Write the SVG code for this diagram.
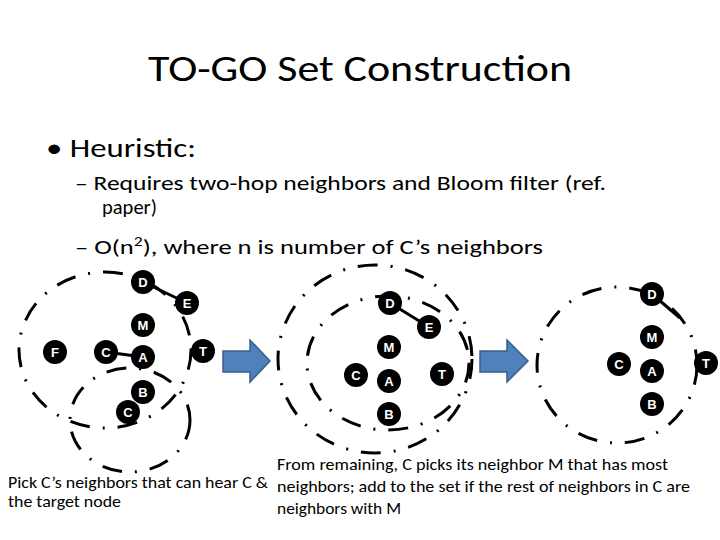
<svg xmlns="http://www.w3.org/2000/svg" width="720" height="540" viewBox="0 0 720 540">
<style>
text{font-family:"Liberation Sans",Arial,sans-serif;fill:#000}
.t{font-family:Carlito,"Open Sans","Liberation Sans",sans-serif}
.ring{fill:none;stroke:#000;stroke-width:3;stroke-dasharray:20 13 2 13}
.n circle{fill:#000}
.n text{fill:#fff;font-size:13px;text-anchor:middle;font-weight:bold}
.ln{stroke:#000;stroke-width:3}
.arr{fill:#4f81bd;stroke:#385d8a;stroke-width:1.5}
</style>
<rect width="720" height="540" fill="#fff"/>
<text class="t" x="360" y="81" font-size="36" text-anchor="middle" textLength="424" lengthAdjust="spacingAndGlyphs">TO-GO Set Construction</text>
<text class="t" x="46" y="157" font-size="27" textLength="150" lengthAdjust="spacingAndGlyphs">• Heuristic:</text>
<text class="t" x="75" y="190" font-size="21" textLength="531" lengthAdjust="spacingAndGlyphs">– Requires two-hop neighbors and Bloom filter (ref.</text>
<text class="t" x="102" y="214" font-size="21" textLength="55" lengthAdjust="spacingAndGlyphs">paper)</text>
<text class="t" x="75" y="254" font-size="21" textLength="468" lengthAdjust="spacingAndGlyphs">– O(n<tspan font-size="14" dy="-8">2</tspan><tspan dy="8">), where n is number of C’s neighbors</tspan></text>
<g id="connectors">
<ellipse class="ring" cx="105" cy="350" rx="86" ry="78"/>
<ellipse class="ring" cx="130" cy="420" rx="60" ry="52"/>
<ellipse class="ring" cx="375" cy="359" rx="97" ry="94"/>
<ellipse class="ring" cx="388" cy="363" rx="81" ry="67"/>
<ellipse class="ring" cx="617" cy="365" rx="80" ry="78"/>
<line class="ln" x1="106" y1="352" x2="143" y2="357"/>
<line class="ln" x1="143" y1="282" x2="187" y2="303"/>
<line class="ln" x1="390" y1="303" x2="429" y2="327"/>
<line class="ln" x1="652" y1="294" x2="680" y2="318"/>
<polygon class="arr" points="223,351 250,351 250,340 270,361 250,382 250,372 223,372"/>
<polygon class="arr" points="480,351 507,351 507,340 528,361 507,382 507,372 480,372"/>
</g>
<g id="g1" class="n">
<g id="n1D"><circle cx="143" cy="282" r="12"/><text x="143" y="287">D</text></g>
<g id="n1E"><circle cx="187" cy="303" r="12"/><text x="187" y="308">E</text></g>
<g id="n1M"><circle cx="143" cy="325" r="12"/><text x="143" y="330">M</text></g>
<g id="n1F"><circle cx="55" cy="352" r="12"/><text x="55" y="357">F</text></g>
<g id="n1C"><circle cx="106" cy="352" r="12"/><text x="106" y="357">C</text></g>
<g id="n1A"><circle cx="143" cy="357" r="12"/><text x="143" y="362">A</text></g>
<g id="n1T"><circle cx="203" cy="351" r="12"/><text x="203" y="356">T</text></g>
<g id="n1B"><circle cx="143" cy="392" r="12"/><text x="143" y="397">B</text></g>
<g id="n1C2"><circle cx="128" cy="412" r="12"/><text x="128" y="417">C</text></g>
</g>
<g id="g2" class="n">
<g id="n2D"><circle cx="390" cy="303" r="12"/><text x="390" y="308">D</text></g>
<g id="n2E"><circle cx="429" cy="327" r="12"/><text x="429" y="332">E</text></g>
<g id="n2M"><circle cx="389" cy="347" r="12"/><text x="389" y="352">M</text></g>
<g id="n2C"><circle cx="356" cy="375" r="12"/><text x="356" y="380">C</text></g>
<g id="n2A"><circle cx="389" cy="381" r="12"/><text x="389" y="386">A</text></g>
<g id="n2T"><circle cx="442" cy="374" r="12"/><text x="442" y="379">T</text></g>
<g id="n2B"><circle cx="389" cy="414" r="12"/><text x="389" y="419">B</text></g>
</g>
<g id="g3" class="n">
<g id="n3D"><circle cx="652" cy="294" r="12"/><text x="652" y="299">D</text></g>
<g id="n3M"><circle cx="652" cy="337" r="12"/><text x="652" y="342">M</text></g>
<g id="n3C"><circle cx="619" cy="364" r="12"/><text x="619" y="369">C</text></g>
<g id="n3A"><circle cx="652" cy="371" r="12"/><text x="652" y="376">A</text></g>
<g id="n3T"><circle cx="706" cy="363" r="12"/><text x="706" y="368">T</text></g>
<g id="n3B"><circle cx="652" cy="404" r="12"/><text x="652" y="409">B</text></g>
</g>
<text class="t" x="8" y="488" font-size="16" textLength="260" lengthAdjust="spacingAndGlyphs">Pick C’s neighbors that can hear C &amp;</text>
<text class="t" x="8" y="507" font-size="16" textLength="113" lengthAdjust="spacingAndGlyphs">the target node</text>
<text class="t" x="277" y="470" font-size="16" textLength="391" lengthAdjust="spacingAndGlyphs">From remaining, C picks its neighbor M that has most</text>
<text class="t" x="277" y="492" font-size="16" textLength="413" lengthAdjust="spacingAndGlyphs">neighbors; add to the set if the rest of neighbors in C are</text>
<text class="t" x="277" y="514" font-size="16" textLength="124" lengthAdjust="spacingAndGlyphs">neighbors with M</text>
</svg>
